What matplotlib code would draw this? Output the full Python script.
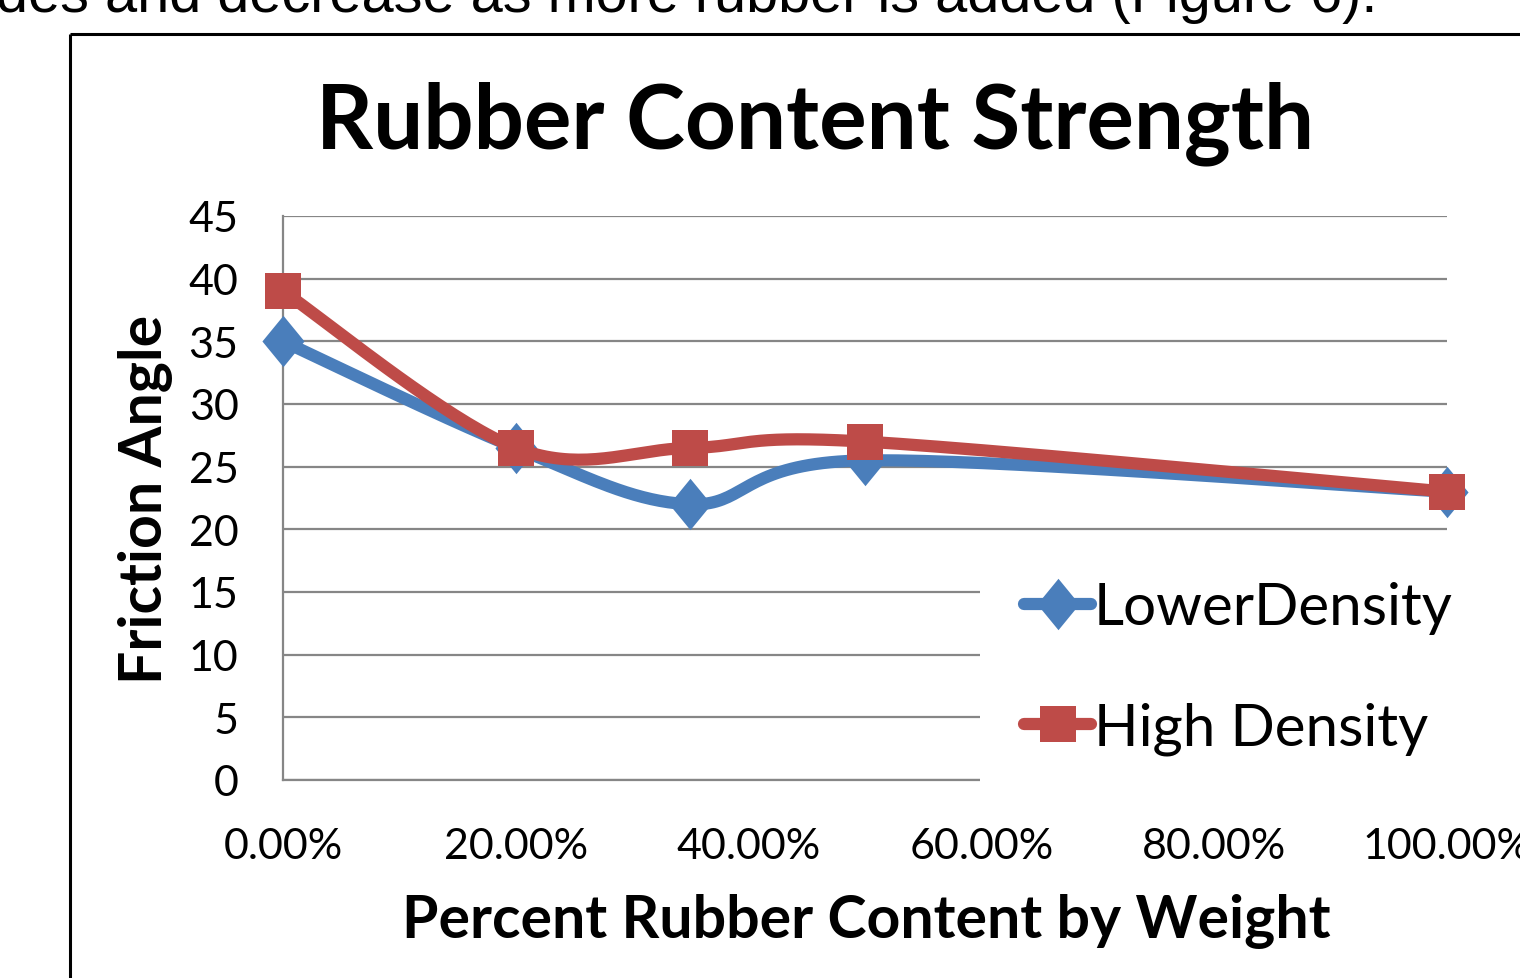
import numpy as np
import matplotlib
matplotlib.use("Agg")
import matplotlib.pyplot as plt
from matplotlib.lines import Line2D
from matplotlib.patches import Rectangle
from matplotlib.path import Path
from matplotlib.ticker import FixedLocator, FuncFormatter

# Friction angle vs. rubber content
rubber_content = [0.0, 0.20, 0.35, 0.50, 1.00]
lower_density = [35, 26.5, 22, 25.5, 23]
high_density = [39, 26.5, 26.5, 27, 23]
series_names = ["LowerDensity", "High Density"]

y_ticks = [0, 5, 10, 15, 20, 25, 30, 35, 40, 45]
x_ticks = [0.0, 0.2, 0.4, 0.6, 0.8, 1.0]

title = "Rubber Content Strength"
x_title = "Percent Rubber Content by Weight"
y_title = "Friction Angle"
body_text = "des and decrease as more rubber is added (Figure 6)."

BLUE = "#4A7EBB"
RED = "#BE4B48"
GRID = "#868686"
FONT = ["Lato", "DejaVu Sans"]

# slightly tall diamond marker
DIAMOND = Path([(0, 1), (0.82, 0), (0, -1), (-0.82, 0), (0, 1)],
               [Path.MOVETO, Path.LINETO, Path.LINETO, Path.LINETO, Path.CLOSEPOLY])


def smooth(xs, ys, n=40):
    """Catmull-Rom style Bezier smoothing through the given points."""
    p = np.column_stack([xs, ys]).astype(float)
    ext = np.vstack([p[0], p, p[-1]])
    out = []
    t = np.linspace(0, 1, n)[:, None]
    for i in range(1, len(ext) - 2):
        p0, p1, p2, p3 = ext[i - 1], ext[i], ext[i + 1], ext[i + 2]
        c1 = p1 + (p2 - p0) / 6.0
        c2 = p2 - (p3 - p1) / 6.0
        seg = ((1 - t) ** 3) * p1 + 3 * ((1 - t) ** 2) * t * c1 \
            + 3 * (1 - t) * t ** 2 * c2 + t ** 3 * p2
        out.append(seg if i == 1 else seg[1:])
    seg = np.vstack(out)
    return seg[:, 0], seg[:, 1]


plt.rcParams["font.family"] = FONT
fig = plt.figure(figsize=(15.2, 9.79), dpi=100)
W, H = 1520, 979


def fx(px):
    return px / W


def fy(py):
    return 1 - py / H


# surrounding document text and chart frame
fig.text(fx(-4), fy(12), body_text, fontsize=41.5, ha="left", va="baseline",
         color="black", family=["Liberation Sans", "DejaVu Sans"])
fig.add_artist(Line2D([fx(70), fx(1530)], [fy(35), fy(35)], color="black",
                      lw=2.2, transform=fig.transFigure, solid_capstyle="butt"))
fig.add_artist(Line2D([fx(70), fx(70)], [fy(35), fy(990)], color="black",
                      lw=2.2, transform=fig.transFigure, solid_capstyle="butt"))

ax = fig.add_axes([fx(283), fy(781), fx(1447) - fx(283), fy(217) - fy(781)])
ax.set_xlim(0, 1.0)
ax.set_ylim(0, 45)
ax.set_facecolor("none")
for side in ("top", "right"):
    ax.spines[side].set_visible(False)
for side in ("left", "bottom"):
    ax.spines[side].set_color(GRID)
    ax.spines[side].set_linewidth(1.6)
    ax.spines[side].set_zorder(1)

ax.yaxis.set_major_locator(FixedLocator(y_ticks))
ax.xaxis.set_major_locator(FixedLocator(x_ticks))
ax.xaxis.set_major_formatter(FuncFormatter(lambda v, _: f"{v * 100:.2f}%"))
ax.yaxis.grid(True, color=GRID, lw=1.6)
ax.set_axisbelow(True)
ax.tick_params(axis="both", length=0, labelsize=31, colors="black")
ax.tick_params(axis="y", pad=32)
ax.tick_params(axis="x", pad=34)
for lab in ax.get_xticklabels() + ax.get_yticklabels():
    lab.set_clip_on(False)

# white legend area that hides the lower gridlines
ax.add_patch(Rectangle((fx(980), fy(800)), fx(1530) - fx(980), fy(558) - fy(800),
                       transform=fig.transFigure, facecolor="white",
                       edgecolor="none", zorder=2, clip_on=False))

styles = [(lower_density, BLUE, DIAMOND, 37), (high_density, RED, "s", 26)]
for ys, color, marker, ms in styles:
    sx, sy = smooth(rubber_content, ys)
    ax.plot(sx, sy, color=color, lw=8.8, solid_capstyle="round",
            solid_joinstyle="round", clip_on=False, zorder=3)
    ax.plot(rubber_content, ys, linestyle="none", marker=marker, ms=ms,
            color=color, mec=color, mew=0, clip_on=False, zorder=3)

handles = [Line2D([], [], color=c, lw=8.8, marker=m, ms=ms, mew=0,
                  solid_capstyle="round") for _, c, m, ms in styles]
leg = ax.legend(handles, series_names, loc="center left",
                bbox_to_anchor=(fx(1024), fy(669)), bbox_transform=fig.transFigure,
                frameon=False, fontsize=42, handlelength=1.15, handletextpad=0.05,
                labelspacing=1.15, borderpad=0, borderaxespad=0)
leg.set_zorder(4)

fig.text(fx(815), fy(148), title, fontsize=64, fontweight="bold",
         ha="center", va="baseline")
ax.set_xlabel(x_title, fontsize=42.5, fontweight="bold", va="center")
ax.xaxis.set_label_coords((866 - 283) / 1164, (781 - 922) / 564)
ax.set_ylabel(y_title, fontsize=42.5, fontweight="bold", va="center")
ax.yaxis.set_label_coords((146 - 283) / 1164, 0.5)

fig.savefig("out.png", dpi=100)
